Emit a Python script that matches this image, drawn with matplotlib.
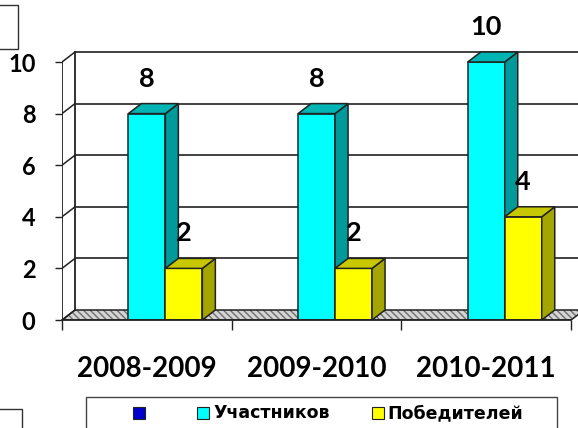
import matplotlib
matplotlib.use("Agg")
from matplotlib import pyplot as plt
from matplotlib.patches import Polygon, Rectangle
import numpy as np

# данные
categories = ["2008-2009", "2009-2010", "2010-2011"]
series_names = ["", "Участников", "Победителей"]
blue_vals = [0, 0, 0]          # пустой ряд (только в легенде)
uch_vals = [8, 8, 10]
pob_vals = [2, 2, 4]
yticks = [0, 2, 4, 6, 8, 10]

front_cols = ["#0000cc", "#00ffff", "#ffff00"]
top_cols = ["#00009a", "#00b4b4", "#c8c800"]
side_cols = ["#000080", "#009a9a", "#a5a500"]

W, H = 578, 428
fig = plt.figure(figsize=(W / 100, H / 100), dpi=100)

def fx(px):
    return px / W

def fy(py):
    return 1 - py / H

# масштаб: пикселей на категорию и на единицу
sx = 169.7
sy = 25.8
x_left, y_zero = 62, 320
ax = fig.add_axes([fx(x_left), fy(y_zero), (W - x_left) / W, (y_zero - 40) / H])
ax.set_xlim(-0.5, -0.5 + (W - x_left) / sx)
ax.set_ylim(0, (y_zero - 40) / sy)
for s in ax.spines.values():
    s.set_visible(False)

dx = 13 / sx
dy = 10 / sy
xmax = ax.get_xlim()[1]
ncat = len(categories)
lc = "#222222"

# пол
floor = [(-0.5, 0), (ncat - 0.5, 0), (ncat - 0.5 + dx, dy), (-0.5 + dx, dy)]
ax.add_patch(Polygon(floor, closed=True, facecolor="#d4d4d4", edgecolor="#6f6f6f",
                     hatch="\\\\\\\\\\", lw=0, zorder=1))
ax.add_patch(Polygon(floor, closed=True, fill=False, edgecolor=lc, lw=1.1, zorder=1.2))

# задняя стенка и сетка
ax.plot([-0.5 + dx, -0.5 + dx], [dy, yticks[-1] + dy], color=lc, lw=1.3, zorder=1.5)
for v in yticks:
    if v > 0:
        ax.plot([-0.5 + dx, xmax], [v + dy, v + dy], color="#333333", lw=1.3, zorder=1.5)
    ax.plot([-0.5, -0.5 + dx], [v, v + dy], color=lc, lw=1.1, zorder=1.5)
ax.plot([-0.5, -0.5], [0, yticks[-1]], color=lc, lw=1.3, zorder=1.5)

# столбцы
w = 37 / sx
xc = np.arange(ncat)
all_vals = [blue_vals, uch_vals, pob_vals]
for k, vals in enumerate(all_vals):
    if k == 0:
        continue
    xs = xc - 1.5 * w + k * w
    bars = ax.bar(xs, vals, width=w, align="edge", color=front_cols[k],
                  edgecolor=lc, lw=1.1, zorder=3 + k)
    for b, v in zip(bars, vals):
        x0 = b.get_x()
        x1 = x0 + b.get_width()
        h = b.get_height()
        side = [(x1, 0), (x1 + dx, dy), (x1 + dx, h + dy), (x1, h)]
        top = [(x0, h), (x1, h), (x1 + dx, h + dy), (x0 + dx, h + dy)]
        ax.add_patch(Polygon(side, closed=True, facecolor=side_cols[k], edgecolor=lc,
                             lw=1.1, zorder=3 + k))
        ax.add_patch(Polygon(top, closed=True, facecolor=top_cols[k], edgecolor=lc,
                             lw=1.1, zorder=3 + k))
        ax.annotate(str(v), (x0 + w / 2, h + dy), xytext=(0, 18), textcoords="offset points",
                    ha="center", va="center", fontsize=19.5, fontweight="bold",
                    family=["Lato", "DejaVu Sans"], zorder=10)

# оси
ax.set_yticks(yticks)
ax.set_yticklabels([str(v) for v in yticks], fontsize=17, fontweight="bold",
                   family=["Lato", "DejaVu Sans"])
ax.tick_params(axis="y", length=5, width=1, color=lc, pad=14)
ax.set_xticks(np.arange(ncat + 1) - 0.5)
ax.set_xticklabels([])
ax.tick_params(axis="x", length=7, width=1, color=lc)
ax.set_xticks(xc, minor=True)
ax.set_xticklabels(categories, minor=True, fontsize=20, fontweight="bold",
                   family=["Lato", "DejaVu Sans"])
ax.tick_params(axis="x", which="minor", length=0, pad=26)
ax.plot([-0.5, ncat - 0.5], [0, 0], color=lc, lw=1.3, zorder=6, clip_on=False)

# легенда
fig.patches.append(Rectangle((fx(86), -0.05), fx(557) - fx(86), fy(397) + 0.05,
                             transform=fig.transFigure, fill=False, edgecolor="#444444", lw=1))
sq = [133, 197, 372]
tx = [None, 213, 387]
for k in range(3):
    fig.patches.append(Rectangle((fx(sq[k]), fy(419)), 12 / W, 12 / H,
                                 transform=fig.transFigure, facecolor=front_cols[k],
                                 edgecolor="#222222", lw=0.8))
    if series_names[k]:
        fig.text(fx(tx[k]), fy(413), series_names[k], fontsize=12.5, fontweight="bold",
                 ha="left", va="center", family=["DejaVu Sans"])

# рамки по краям слайда
fig.patches.append(Rectangle((fx(-2), fy(49)), fx(20), fy(5) - fy(49),
                             transform=fig.transFigure, fill=False, edgecolor="#333333", lw=1))
fig.patches.append(Rectangle((fx(-2), -0.05), fx(24), fy(409) + 0.05,
                             transform=fig.transFigure, fill=False, edgecolor="#333333", lw=1))

fig.savefig("out.png", dpi=100)
